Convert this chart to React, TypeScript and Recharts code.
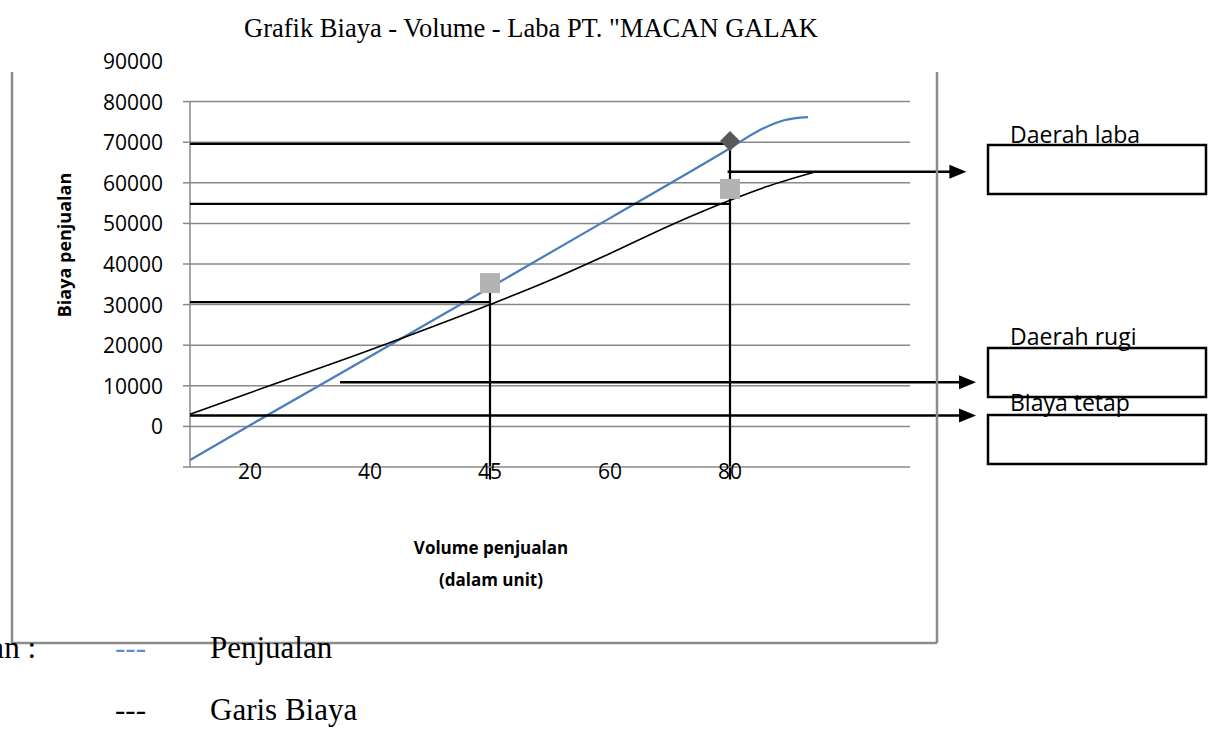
import { ComposedChart, Line, XAxis, YAxis, ReferenceLine } from "recharts";

// category labels on the x axis, placed at positions 1..5
const categories = ["20", "40", "45", "60", "80"];
const categoryPos = [1, 2, 3, 4, 5];

const yTicks = [-10000, 0, 10000, 20000, 30000, 40000, 50000, 60000, 70000, 80000, 90000];
const gridValues = [0, 10000, 20000, 30000, 40000, 50000, 60000, 70000, 80000];

// Penjualan (blue curve)
const penjualan = [
  { pos: 0.5, value: -8300 },
  { pos: 1, value: 300 },
  { pos: 2, value: 17200 },
  { pos: 3, value: 34200 },
  { pos: 4, value: 51300 },
  { pos: 5, value: 68500 },
  { pos: 5.25, value: 73000 },
  { pos: 5.45, value: 75400 },
  { pos: 5.65, value: 76200 },
];

// Garis Biaya (black curve)
const garisBiaya = [
  { pos: 0.5, value: 3000 },
  { pos: 1, value: 8300 },
  { pos: 2, value: 18800 },
  { pos: 3, value: 30000 },
  { pos: 3.5, value: 36000 },
  { pos: 4, value: 42600 },
  { pos: 4.5, value: 49500 },
  { pos: 5, value: 55700 },
  { pos: 5.3, value: 59000 },
  { pos: 5.7, value: 62600 },
];

const diamondPoints = [{ pos: 5, value: 70300 }];
const squarePoints = [
  { pos: 3, value: 35300 },
  { pos: 5, value: 58500 },
];

// helper lines drawn over the chart
const hLines = [
  { from: 0.5, to: 5, value: 69600 },
  { from: 0.5, to: 5, value: 54800 },
  { from: 0.5, to: 3, value: 30600 },
];
const vLines = [
  { pos: 3, from: -13100, to: 35300 },
  { pos: 5, from: -13100, to: 70300 },
];
const arrows = [
  { from: 4.98, to: 6.97, value: 62700 },
  { from: 1.75, to: 7.05, value: 10900 },
  { from: 0.5, to: 7.05, value: 2700 },
];

const gridColor = "#888888";
const sansFont = "'Open Sans', 'Noto Sans', sans-serif";
const serifFont = "'Liberation Serif', 'Times New Roman', serif";

const YTick = (props: any) => {
  const { x, y, payload } = props;
  const v = payload.value;
  return (
    <g>
      {v <= 80000 && <line x1={x - 7} x2={x} y1={y} y2={y} stroke={gridColor} strokeWidth={1.5} />}
      {v >= 0 && (
        <text x={x - 27} y={y} textAnchor="end" dominantBaseline="central" fontFamily={sansFont} fontSize={21} fill="#000">
          {v}
        </text>
      )}
    </g>
  );
};

const XTick = (props: any) => {
  const { x, y, payload } = props;
  const idx = categoryPos.indexOf(payload.value);
  return (
    <text x={x} y={y + 4} textAnchor="middle" dominantBaseline="central" fontFamily={sansFont} fontSize={21} fill="#000">
      {idx >= 0 ? categories[idx] : ""}
    </text>
  );
};

const Diamond = (p: any) => {
  const { cx, cy } = p;
  if (cx == null || cy == null) return <g />;
  return <polygon points={`${cx},${cy - 10} ${cx + 10},${cy} ${cx},${cy + 10} ${cx - 10},${cy}`} fill="#595959" />;
};

const Square = (p: any) => {
  const { cx, cy } = p;
  if (cx == null || cy == null) return <g />;
  return <rect x={cx - 10} y={cy - 10} width={20} height={20} fill="#b3b3b3" />;
};

const Arrow = (p: any) => {
  const { x1, y1, x2, y2 } = p;
  return (
    <g>
      <line x1={x1} y1={y1} x2={x2 - 12} y2={y2} stroke="#000" strokeWidth={2.5} />
      <polygon points={`${x2},${y2} ${x2 - 17},${y2 - 7} ${x2 - 17},${y2 + 7}`} fill="#000" />
    </g>
  );
};

const App = () => {
  return (
    <div style={{ position: "absolute", left: 0, top: 0, width: 1217, height: 730, background: "#fff", overflow: "hidden" }}>
      <ComposedChart width={1217} height={730} margin={{ top: 61, right: 307, bottom: 233, left: 90 }}>
        <XAxis
          type="number"
          dataKey="pos"
          domain={[0.5, 6.5]}
          ticks={categoryPos}
          interval={0}
          tick={<XTick />}
          tickLine={false}
          tickSize={0}
          tickMargin={0}
          height={30}
          axisLine={{ stroke: gridColor, strokeWidth: 1.5 }}
        />
        <YAxis
          type="number"
          domain={[-10000, 90000]}
          ticks={yTicks}
          interval={0}
          tick={<YTick />}
          tickLine={false}
          tickSize={0}
          tickMargin={0}
          axisLine={false}
          width={100}
        />
        {gridValues.map((v) => (
          <ReferenceLine key={"g" + v} y={v} stroke={gridColor} strokeWidth={1.5} ifOverflow="visible" />
        ))}
        <ReferenceLine
          segment={[{ x: 0.5, y: -10000 }, { x: 0.5, y: 80000 }]}
          stroke={gridColor}
          strokeWidth={1.5}
          ifOverflow="visible"
        />
        <Line data={squarePoints} dataKey="value" stroke="none" dot={<Square />} activeDot={false} isAnimationActive={false} />
        <Line data={diamondPoints} dataKey="value" stroke="none" dot={<Diamond />} activeDot={false} isAnimationActive={false} />
        <Line data={penjualan} dataKey="value" type="monotone" stroke="#4a7ebb" strokeWidth={2.2} dot={false} activeDot={false} isAnimationActive={false} />
        <Line data={garisBiaya} dataKey="value" type="monotone" stroke="#000" strokeWidth={1.6} dot={false} activeDot={false} isAnimationActive={false} />
        {hLines.map((l, i) => (
          <ReferenceLine
            key={"h" + i}
            segment={[{ x: l.from, y: l.value }, { x: l.to, y: l.value }]}
            stroke="#000"
            strokeWidth={2.2}
            ifOverflow="visible"
          />
        ))}
        {vLines.map((l, i) => (
          <ReferenceLine
            key={"v" + i}
            segment={[{ x: l.pos, y: l.from }, { x: l.pos, y: l.to }]}
            stroke="#000"
            strokeWidth={2.2}
            ifOverflow="visible"
          />
        ))}
        {arrows.map((a, i) => (
          <ReferenceLine
            key={"a" + i}
            segment={[{ x: a.from, y: a.value }, { x: a.to, y: a.value }]}
            stroke="#000"
            ifOverflow="visible"
            shape={<Arrow />}
          />
        ))}
      </ComposedChart>

      <svg width={1217} height={730} style={{ position: "absolute", left: 0, top: 0, pointerEvents: "none" }}>
        <text x={531} y={37} textAnchor="middle" fontFamily={serifFont} fontSize={26.5} fill="#000">
          Grafik Biaya - Volume - Laba PT. "MACAN GALAK
        </text>

        <line x1={12} y1={72} x2={12} y2={643} stroke="#8c8c8c" strokeWidth={2.5} />
        <line x1={937} y1={72} x2={937} y2={643} stroke="#8c8c8c" strokeWidth={2.5} />
        <line x1={12} y1={643} x2={937} y2={643} stroke="#8c8c8c" strokeWidth={2.5} />

        <text transform="translate(71,245) rotate(-90)" textAnchor="middle" fontFamily={sansFont} fontWeight="bold" fontSize={18} fill="#000">
          Biaya penjualan
        </text>
        <text x={491} y={554} textAnchor="middle" fontFamily={sansFont} fontWeight="bold" fontSize={17} fill="#000">
          Volume penjualan
        </text>
        <text x={491} y={586} textAnchor="middle" fontFamily={sansFont} fontWeight="bold" fontSize={17} fill="#000">
          (dalam unit)
        </text>

        <rect x={988} y={145} width={218} height={49} fill="none" stroke="#000" strokeWidth={2.5} />
        <rect x={988} y={348} width={218} height={49} fill="none" stroke="#000" strokeWidth={2.5} />
        <rect x={988} y={415} width={218} height={49} fill="none" stroke="#000" strokeWidth={2.5} />
        <text x={1010} y={143} fontFamily={sansFont} fontSize={23} fill="#000">Daerah laba</text>
        <text x={1010} y={345} fontFamily={sansFont} fontSize={23} fill="#000">Daerah rugi</text>
        <text x={1010} y={411} fontFamily={sansFont} fontSize={23} fill="#000">Biaya tetap</text>

        <text x={36} y={658} textAnchor="end" fontFamily={serifFont} fontSize={31} fill="#000">Keterangan :</text>
        <text x={115} y={658} fontFamily={serifFont} fontSize={31} fill="#5b8ed6">---</text>
        <text x={210} y={658} fontFamily={serifFont} fontSize={31} fill="#000">Penjualan</text>
        <text x={115} y={720} fontFamily={serifFont} fontSize={31} fill="#000">---</text>
        <text x={210} y={720} fontFamily={serifFont} fontSize={31} fill="#000">Garis Biaya</text>
      </svg>
    </div>
  );
};

export default App;
